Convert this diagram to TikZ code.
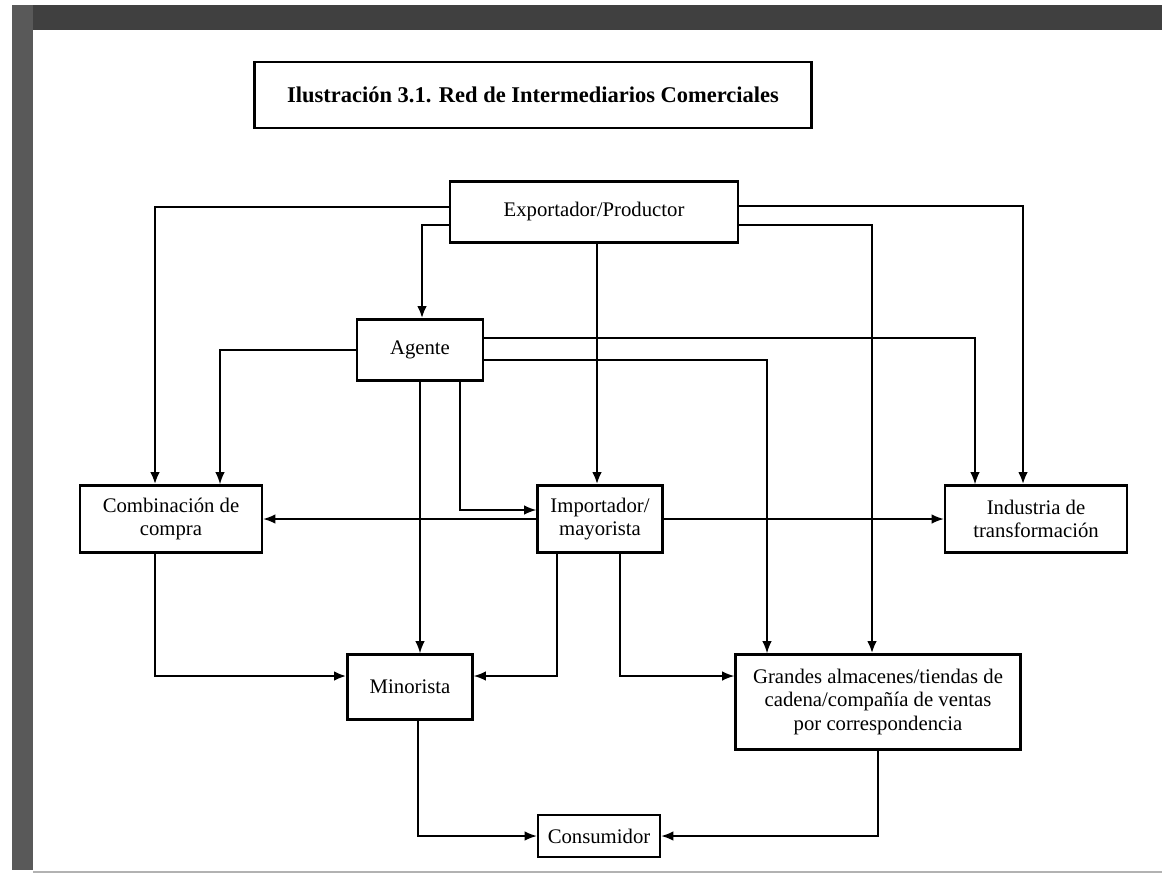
\documentclass[tikz,border=0pt]{standalone}
\usepackage{fontspec}
\setmainfont{Liberation Serif}
\usetikzlibrary{shapes,arrows,arrows.meta,positioning}

\tikzset{
  box/.style={draw, line width=1.3pt, inner sep=0pt, align=center, font=\fontsize{11.8}{13.5}\selectfont},
  link/.style={-{Latex[length=7pt,width=5.5pt]}, line width=1pt},
  heavy/.style={link, line width=1.6pt}
}

\begin{document}
\begin{tikzpicture}[x=0.02cm, y=-0.02cm]
	\useasboundingbox (0,0) rectangle (1162,876);
	% page edge
	\fill[black!75] (12,5) rectangle (1162,30);
	\fill[black!65] (12,5) rectangle (33,870);
	\draw[black!30, line width=1pt] (33,872) -- (1162,872);

	\node[box, minimum width=11.14cm, minimum height=1.32cm, font=\bfseries\fontsize{12.8}{14}\selectfont] (0) at (533,95) {Ilustración 3.1. Red de Intermediarios Comerciales};

	\node[box, minimum width=5.76cm, minimum height=1.22cm] (1) at (594,212) {Exportador/Productor};
	\node[box, minimum width=2.52cm, minimum height=1.22cm] (2) at (420,350) {Agente};
	\node[box, minimum width=3.64cm, minimum height=1.34cm] (3) at (171,519) {Combinación de\\compra};
	\node[box, minimum width=2.5cm, minimum height=1.34cm] (4) at (600,519) {Importador/\\mayorista};
	\node[box, minimum width=3.64cm, minimum height=1.34cm] (5) at (1036,519) {Industria de\\transformación};
	\node[box, minimum width=2.5cm, minimum height=1.3cm] (6) at (410,687) {Minorista};
	\node[box, minimum width=5.7cm, minimum height=1.9cm] (7) at (878,702) {Grandes almacenes/tiendas de\\cadena/compañía de ventas\\por correspondencia};
	\node[box, minimum width=2.44cm, minimum height=0.84cm] (8) at (599,836) {Consumidor};

	% from the exporter
	\draw[heavy] (1.west |- 0,207) -| (155,0 |- 3.north);
	\draw[heavy] (1.west |- 0,225) -| (422,0 |- 2.north);
	\draw[heavy] (597,0 |- 1.south) -- (597,0 |- 4.north);
	\draw[heavy] (1.east |- 0,206) -| (1023,0 |- 5.north);
	\draw[heavy] (1.east |- 0,225) -| (872,0 |- 7.north);

	% from the agent
	\draw[link] (2.west) -| (220,0 |- 3.north);
	\draw[link] (2.east |- 0,338) -| (975,0 |- 5.north);
	\draw[link] (2.east |- 0,360) -| (767,0 |- 7.north);
	\draw[link] (420,0 |- 2.south) -- (420,0 |- 6.north);
	\draw[link] (460,0 |- 2.south) |- (4.west |- 0,510);

	\draw[link] (4.west) -- (3.east);
	\draw[link] (4.east) -- (5.west);
	\draw[link] (557,0 |- 4.south) |- (6.east |- 0,676);
	\draw[link] (620,0 |- 4.south) |- (7.west |- 0,676);
	\draw[heavy] (155,0 |- 3.south) |- (6.west |- 0,676);
	\draw[link] (418,0 |- 6.south) |- (8.west);
	\draw[link] (878,0 |- 7.south) |- (8.east);
\end{tikzpicture}
\end{document}
